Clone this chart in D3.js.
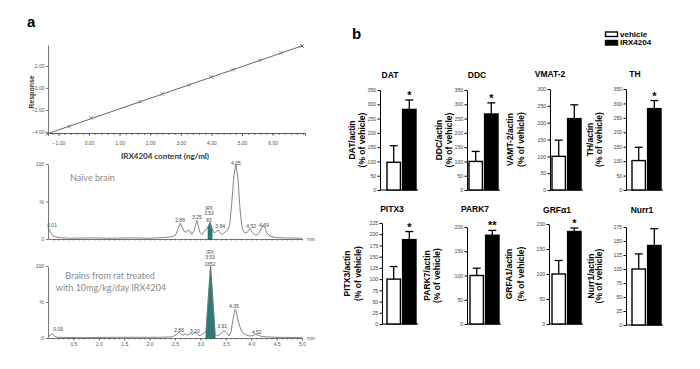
<!DOCTYPE html>
<html><head><meta charset="utf-8">
<script src="https://cdn.jsdelivr.net/npm/d3@7"></script>
<style>
body{margin:0;background:#fff;}
svg{display:block;font-family:"Liberation Sans",Arial,sans-serif;}
</style></head>
<body><svg id="c" width="700" height="369"></svg>
<script>
// ---------- DATA ----------
// Panel a: calibration curve (standards) and fitted line
const calX = [-1.37,-0.65,0.07,1.67,2.39,3.27,3.99,4.71,5.59,6.27,6.96];
const calY = [-4.18,-3.52,-2.74,-1.26,-0.55,0.28,0.99,1.66,2.50,3.17,3.82];
const fitX = [-1.37,6.96];
const fitY = [-4.18,3.82];
const calXTicks = [-1,0,1,2,3,4,5,6];
const calYTicks = [-4,-2,0,2];

// Chromatogram: naive brain (time in min, intensity in %)
const naiveT = [0,0.039,0.098,0.197,0.433,0.827,1.22,1.61,2.01,2.30,2.44,2.52,2.56,2.60,2.64,2.68,2.72,2.76,2.80,2.83,2.87,2.91,2.93,2.95,2.99,3.03,3.07,3.11,3.15,3.19,3.23,3.27,3.31,3.35,3.39,3.43,3.46,3.50,3.54,3.58,3.62,3.66,3.70,3.74,3.78,3.82,3.86,3.90,3.94,3.98,4.02,4.06,4.09,4.13,4.19,4.23,4.27,4.31,4.37,4.47,4.67,5.0];
const naiveI = [16,10,4,2,1,1.5,1,1.5,1,2,3,6,14,21,16,10,9,12,10,6,10,20,25,20,9,6,10,12,16,22,14,8,10,12,8,6,8,10,12,20,50,85,100,80,40,15,9,8,10,14,9,6,5,6,12,18,15,8,4,2,1.5,1];
const naiveIrxRange = [3.12,3.26];
const naiveLabelText = ["0.01","2.88","3.25","3.84","4.05","4.52","4.69"];
const naiveLabelT = [0.08,2.60,2.93,3.39,3.70,4.00,4.25];
const naiveLabelI = [19,25,29,17,102,18,19];
const naiveIrxText = ["IRX","3.53","83"];
const naiveIrxT = 3.17;
const naiveIrxI = [42,35,26];

// Chromatogram: treated brain
const treatT = [0,0.039,0.079,0.118,0.177,0.63,1.42,2.20,2.44,2.52,2.58,2.62,2.66,2.70,2.74,2.78,2.81,2.85,2.89,2.93,2.97,3.01,3.05,3.11,3.20,3.29,3.33,3.39,3.44,3.48,3.52,3.56,3.60,3.64,3.68,3.70,3.74,3.78,3.82,3.88,3.94,4.02,4.09,4.13,4.21,4.33,4.47,5.0];
const treatI = [1,4,6,3,1,0.5,1,1,1.5,4,8,5,4,6,4,5,6,5,8,6,3,4,6,9,100,5,3,5,9,10,7,3,8,25,40,38,25,15,8,5,3,3,5,4,2,1.5,1,0.5];
const treatIrxRange = [3.10,3.30];
const treatLabelText = ["0.09","2.86","3.20","3.91","4.05","4.52"];
const treatLabelT = [0.20,2.58,2.89,3.43,3.66,4.11];
const treatLabelI = [13,11,10,16,45,8];
const treatIrxText = ["IRX","3.53","1652"];
const treatIrxT = 3.19;
const treatIrxI = [120,112,103];
const timeTicks = [0.5,1.0,1.5,2.0,2.5,3.0,3.5,4.0,4.5,5.0];

// Panel b: qPCR
const genes = ["DAT","DDC","VMAT-2","TH","PITX3","PARK7","GRFα1","Nurr1"];
const yLabels = ["DAT/actin","DDC/actin","VAMT-2/actin","TH/actin","PITX3/actin","PARK7/actin","GRFA1/actin","Nurr1/actin"];
const groups = ["vehicle","IRX4204"];
const vehicleMean = [97,100,100,102,100,100,100,100];
const vehicleSem  = [58,35,48,46,28,15,27,27];
const irxMean     = [282,266,212,282,188,183,185,142];
const irxSem      = [33,39,41,28,18,10,7,30];
const sig         = ["*","*","","*","*","**","*",""];
const yMax        = [350,350,300,350,225,200,200,175];
const yStep       = [50,50,50,50,25,50,50,25];

// ---------- LAYOUT ----------
const panelLayout = [
  {ax:380, top:90, bot:190, off:7, l1:-25, l2:-15},
  {ax:467, top:90, bot:190, off:2, l1:-25, l2:-15},
  {ax:550, top:89, bot:190, off:2, l1:-37, l2:-26},
  {ax:626, top:89, bot:190, off:6, l1:-33, l2:-24},
  {ax:382, top:223, bot:324, off:5, l1:-32, l2:-21},
  {ax:467, top:227, bot:324, off:3, l1:-37, l2:-27},
  {ax:549, top:224, bot:324, off:3, l1:-37, l2:-25},
  {ax:626, top:227, bot:325, off:6, l1:-32, l2:-24}
];
const titlePos = [[390,78],[477,78],[550,77],[635,77],[392,212],[475,212],[557,213],[642,213]];

const svg = d3.select("#c");

// ---------- PANEL a ----------
svg.append("text").attr("x",27).attr("y",27).attr("font-size",15).attr("font-weight","bold").text("a");

const cx = d3.scaleLinear().domain([-1.34,7.06]).range([48,305]);
const cy = d3.scaleLinear().domain([-4.1,3.9]).range([133,45]);
const gCal = svg.append("g");
const axStyle = g => { g.selectAll("path,line").attr("stroke","#555").attr("stroke-width",0.8);
  g.selectAll("text").attr("fill","#555").attr("font-size",5); };
gCal.append("g").attr("transform","translate(48,0)")
  .call(d3.axisLeft(cy).tickValues(calYTicks).tickFormat(d3.format(".2f")).tickSize(2).tickSizeOuter(0).tickPadding(1.5))
  .call(axStyle);
gCal.append("g").attr("transform","translate(0,133)")
  .call(d3.axisBottom(cx).tickValues(d3.range(-1.2,7.01,0.2)).tickFormat("").tickSize(2).tickSizeOuter(3))
  .call(axStyle);
gCal.append("g").attr("transform","translate(0,133)")
  .call(d3.axisBottom(cx).tickValues(calXTicks).tickFormat(d3.format(".2f")).tickSize(3).tickSizeOuter(0).tickPadding(5))
  .call(axStyle);
gCal.append("path").datum(d3.zip(fitX,fitY))
  .attr("d", d3.line().x(d=>cx(d[0])).y(d=>cy(d[1])))
  .attr("fill","none").attr("stroke","#666").attr("stroke-width",1);
gCal.selectAll(".m").data(d3.zip(calX,calY)).join("path")
  .attr("transform",d=>`translate(${cx(d[0])},${cy(d[1])})`)
  .attr("d", d3.symbol(d3.symbolX,10)())
  .attr("fill","none").attr("stroke",(d,i)=>i===calX.length-1?"#335":"#777").attr("stroke-width",0.8);
svg.append("text").attr("x",165).attr("y",159).attr("text-anchor","middle")
  .attr("font-family","Lato,'Open Sans',sans-serif").attr("font-weight","bold").attr("font-size",8).attr("fill","#333")
  .text("IRX4204 content (ng/ml)");
svg.append("text").attr("transform","translate(34,92) rotate(-90)").attr("text-anchor","middle")
  .attr("font-weight","bold").attr("font-size",7).attr("fill","#333").text("Response");

// ---------- chromatograms ----------
const tx = d3.scaleLinear().domain([0,5]).range([48,302]);
function chrom(T, I, y0, y100, irxRange, lblT, lblI, lblTxt, irxT, irxI, irxTxt, showLabels){
  const y = d3.scaleLinear().domain([0,100]).range([y0,y100]);
  const g = svg.append("g");
  g.append("g").attr("transform","translate(48,0)")
    .call(d3.axisLeft(y).tickValues([0,50,100]).tickFormat(d=>d===50?"%":d).tickSize(2).tickSizeOuter(0).tickPadding(2))
    .call(axStyle);
  g.append("g").attr("transform",`translate(0,${y0})`)
    .call(d3.axisBottom(tx).tickValues(d3.range(0.1,5.01,0.1)).tickFormat("").tickSize(1.5).tickSizeOuter(0))
    .call(axStyle);
  if(showLabels){
    g.append("g").attr("transform",`translate(0,${y0})`)
      .call(d3.axisBottom(tx).tickValues(timeTicks).tickFormat(d3.format(".1f")).tickSize(2.5).tickSizeOuter(0).tickPadding(2))
      .call(axStyle).call(a=>a.select(".domain").remove());
  }
  g.append("text").attr("x",tx(5)+5).attr("y",y0+2).attr("font-size",5).attr("fill","#555").text("min");
  const pts = d3.zip(T,I);
  const inR = pts.filter(d=>d[0]>=irxRange[0]&&d[0]<=irxRange[1]);
  g.append("path").datum(inR)
    .attr("d", d3.area().x(d=>tx(d[0])).y0(y(0)+0.5).y1(d=>y(d[1])))
    .attr("fill","#2b7d79").attr("stroke","#1d4f4d").attr("stroke-width",0.5);
  g.append("path").datum(pts)
    .attr("d", d3.line().x(d=>tx(d[0])).y(d=>y(d[1])))
    .attr("fill","none").attr("stroke","#777").attr("stroke-width",0.9);
  g.selectAll(".pl").data(lblTxt).join("text")
    .attr("x",(d,i)=>tx(lblT[i])).attr("y",(d,i)=>y(lblI[i])+2)
    .attr("text-anchor","middle").attr("font-size",5).attr("fill","#444").text(d=>d);
  g.selectAll(".il").data(irxTxt).join("text")
    .attr("x",tx(irxT)).attr("y",(d,i)=>y(irxI[i])+2)
    .attr("text-anchor","middle").attr("font-size",(d,i)=>i===0?4.5:5).attr("fill","#444").text(d=>d);
  return g;
}
chrom(naiveT,naiveI,239,164,naiveIrxRange,naiveLabelT,naiveLabelI,naiveLabelText,naiveIrxT,naiveIrxI,naiveIrxText,false);
chrom(treatT,treatI,338,266,treatIrxRange,treatLabelT,treatLabelI,treatLabelText,treatIrxT,treatIrxI,treatIrxText,true);

const noteFont = "Lato,'Open Sans',sans-serif";
svg.append("text").attr("x",70).attr("y",181).attr("font-family",noteFont).attr("font-size",9).attr("fill","#8a8a8a").text("Naïve brain");
svg.append("text").attr("x",110).attr("y",279).attr("text-anchor","middle").attr("font-family",noteFont).attr("font-size",9).attr("fill","#8a8a8a").text("Brains from rat treated");
svg.append("text").attr("x",111).attr("y",291).attr("text-anchor","middle").attr("font-family",noteFont).attr("font-size",9).attr("fill","#8a8a8a").text("with 10mg/kg/day IRX4204");

// ---------- PANEL b ----------
svg.append("text").attr("x",352).attr("y",39).attr("font-size",15).attr("font-weight","bold").text("b");

// legend
const leg = svg.append("g");
groups.forEach((gname,i)=>{
  leg.append("rect").attr("x",605.5).attr("y",32+i*8.5).attr("width",12).attr("height",4.5)
    .attr("fill",i===0?"#fff":"#000").attr("stroke","#000").attr("stroke-width",1.4);
  leg.append("text").attr("x",620).attr("y",36.5+i*8.5).attr("font-size",8).attr("font-weight","bold").text(gname);
});

genes.forEach((gene,k)=>{
  const L = panelLayout[k];
  const g = svg.append("g");
  const y = d3.scaleLinear().domain([0,yMax[k]]).range([L.bot,L.top]);
  const x = d3.scaleBand().domain(groups).range([L.ax+L.off, L.ax+L.off+29]).paddingInner(0.14);
  g.append("g").attr("transform",`translate(${L.ax},0)`)
    .call(d3.axisLeft(y).tickValues(d3.range(0,yMax[k]+0.1,yStep[k])).tickSize(2.5).tickSizeOuter(0).tickPadding(1.2))
    .call(a=>{a.selectAll("path,line").attr("stroke","#000").attr("stroke-width",1);
             a.selectAll("text").attr("font-size",5.3).attr("fill","#444");});
  g.append("line").attr("x1",L.ax).attr("x2",L.ax+L.off+31).attr("y1",L.bot).attr("y2",L.bot).attr("stroke","#000").attr("stroke-width",1.2);
  const means=[vehicleMean[k],irxMean[k]], sems=[vehicleSem[k],irxSem[k]];
  groups.forEach((gr,i)=>{
    const bx=x(gr), bw=x.bandwidth(), top=y(means[i]), et=y(means[i]+sems[i]), cxp=bx+bw/2;
    g.append("line").attr("x1",cxp).attr("x2",cxp).attr("y1",top).attr("y2",et).attr("stroke","#000").attr("stroke-width",1.3);
    g.append("line").attr("x1",cxp-4).attr("x2",cxp+4).attr("y1",et).attr("y2",et).attr("stroke","#000").attr("stroke-width",1.3);
    g.append("rect").attr("x",bx).attr("y",top).attr("width",bw).attr("height",L.bot-top)
      .attr("fill",i===0?"#fff":"#000").attr("stroke","#000").attr("stroke-width",1.4);
    if(i===1 && sig[k]) g.append("text").attr("x",cxp).attr("y",et-1).attr("text-anchor","middle")
      .attr("font-size",11).attr("font-weight","bold").text(sig[k]);
  });
  const mid=(L.top+L.bot)/2;
  g.append("text").attr("transform",`translate(${L.ax+L.l1},${mid}) rotate(-90)`).attr("text-anchor","middle")
    .attr("font-size",8.5).attr("font-weight","bold").text(yLabels[k]);
  g.append("text").attr("transform",`translate(${L.ax+L.l2},${mid}) rotate(-90)`).attr("text-anchor","middle")
    .attr("font-size",8.5).attr("font-weight","bold").text("(% of vehicle)");
  svg.append("text").attr("x",titlePos[k][0]).attr("y",titlePos[k][1]).attr("text-anchor","middle")
    .attr("font-size",8.5).attr("font-weight","bold").text(gene);
});
</script></body></html>
